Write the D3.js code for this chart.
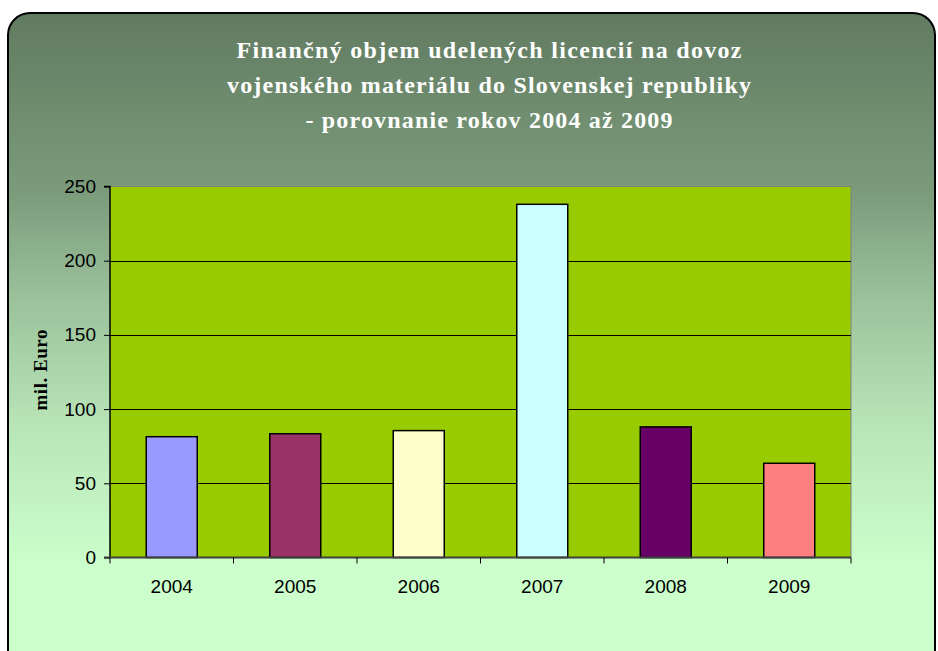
<!DOCTYPE html>
<html><head><meta charset="utf-8">
<script src="https://cdn.jsdelivr.net/npm/d3@7/dist/d3.min.js"></script>
<style>html,body{margin:0;padding:0;background:#fff;}svg{display:block;}</style>
</head><body>
<svg id="c" width="938" height="651"></svg>
<script>
const years = ["2004","2005","2006","2007","2008","2009"];
const values = [81.4, 83.4, 85.5, 238, 88, 63.5];
const barColors = ["#9999FF","#993366","#FFFFCC","#CCFFFF","#660066","#FF8080"];
const yTicks = [0,50,100,150,200,250];
const titleLines = ["Finančný objem udelených licencií na dovoz","vojenského materiálu do Slovenskej republiky","- porovnanie rokov 2004 až 2009"];
const yLabel = "mil. Euro";

const svg = d3.select("#c");
const defs = svg.append("defs");
const g = defs.append("linearGradient").attr("id","bg").attr("gradientUnits","userSpaceOnUse")
  .attr("x1",0).attr("y1",13).attr("x2",0).attr("y2",570);
[[0,"#617B61"],[0.32,"#7B9B7B"],[0.52,"#9CC39C"],[0.75,"#B9E6B9"],[1,"#CCFFCC"]].forEach(s=>
  g.append("stop").attr("offset",s[0]).attr("stop-color",s[1]));

svg.append("rect").attr("x",8).attr("y",13).attr("width",927).attr("height",680).attr("rx",22)
  .attr("fill","url(#bg)").attr("stroke","#000").attr("stroke-width",2);

const L=110,R=851,T=186.5,B=557.5;
const x = d3.scaleBand().domain(years).range([L,R]).padding(0);
const y = d3.scaleLinear().domain([0,250]).range([B,T]);

svg.append("rect").attr("x",L).attr("y",T).attr("width",R-L).attr("height",B-T).attr("fill","#99CC00");
svg.append("path").attr("d",`M${L},${T}H${R}V${B}`).attr("fill","none").attr("stroke","#808080").attr("stroke-width",1);

// gridlines
svg.append("g").selectAll("line").data(yTicks.filter(v=>v>0&&v<250)).join("line")
  .attr("x1",L).attr("x2",R).attr("y1",d=>Math.round(y(d))+0.5).attr("y2",d=>Math.round(y(d))+0.5)
  .attr("stroke","#000").attr("stroke-width",1);

// bars
const bw = x.bandwidth()*0.413;
svg.append("g").selectAll("rect").data(years).join("rect")
  .attr("x",d=>x(d)+x.bandwidth()/2-bw/2).attr("width",bw)
  .attr("y",(d,i)=>y(values[i])).attr("height",(d,i)=>B-y(values[i]))
  .attr("fill",(d,i)=>barColors[i]).attr("stroke","#000").attr("stroke-width",1.5);

// y axis
const ya = d3.axisLeft(y).tickValues(yTicks).tickSize(6).tickPadding(8);
const yg = svg.append("g").attr("transform",`translate(${L},0)`).call(ya);
yg.select(".domain").attr("stroke","#000").attr("stroke-width",1.5).attr("d",`M-6,${T}H0V${B}`);
yg.selectAll(".tick line").attr("stroke","#000");
yg.selectAll("text").attr("font-family","Liberation Sans, Arial, sans-serif").attr("font-size",19).attr("fill","#000");

// x axis
svg.append("line").attr("x1",L-6).attr("x2",R).attr("y1",B).attr("y2",B).attr("stroke","#404040").attr("stroke-width",2);
const bounds = years.map(d=>x(d)).concat([R]);
svg.append("g").selectAll("line").data(bounds).join("line")
  .attr("x1",d=>d).attr("x2",d=>d).attr("y1",B).attr("y2",B+6).attr("stroke","#000").attr("stroke-width",1);
svg.append("g").selectAll("text").data(years).join("text")
  .attr("x",d=>x(d)+x.bandwidth()/2).attr("y",593).attr("text-anchor","middle")
  .attr("font-family","Liberation Sans, Arial, sans-serif").attr("font-size",19).attr("fill","#000").text(d=>d);

// title
const tl = [505,524,367];
const tb = [58,93,128];
svg.append("g").selectAll("text").data(titleLines).join("text")
  .attr("x",489).attr("y",(d,i)=>tb[i]).attr("text-anchor","middle")
  .attr("textLength",(d,i)=>tl[i]).attr("lengthAdjust","spacing")
  .attr("font-family","Liberation Serif, Times New Roman, serif").attr("font-weight","bold")
  .attr("font-size",24).attr("fill","#fff").text(d=>d);

// y label
svg.append("text").attr("transform","translate(47,370) rotate(-90)").attr("text-anchor","middle")
  .attr("textLength",81).attr("lengthAdjust","spacing")
  .attr("font-family","Liberation Serif, Times New Roman, serif").attr("font-weight","bold")
  .attr("font-size",19).attr("fill","#000").text(yLabel);
</script>
</body></html>
